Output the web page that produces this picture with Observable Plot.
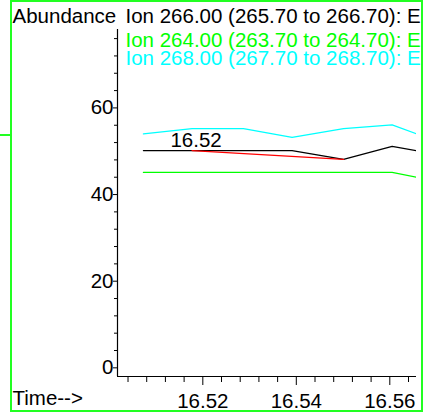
<!DOCTYPE html>
<html><head><meta charset="utf-8">
<script src="https://cdn.jsdelivr.net/npm/d3@7"></script>
<script src="https://cdn.jsdelivr.net/npm/@observablehq/plot@0.6"></script>
<style>
body{margin:0;background:#fff;}
#wrap{position:relative;width:426px;height:415px;overflow:hidden;}
#frame{position:absolute;left:10px;top:0px;width:409px;height:408px;border:2px solid #22ff22;pointer-events:none;}
#strip{position:absolute;left:0px;top:134px;width:10px;height:0;border-top:2px solid #22ff22;}
#chart{position:absolute;left:0;top:0;}
</style>
</head><body>
<div id="wrap"><div id="chart"></div><div id="strip"></div><div id="frame"></div></div>
<script>
// scan times (min) and abundances for each extracted ion
const times  = [16.5073, 16.5177, 16.5287, 16.5391, 16.5501, 16.5605, 16.5713];
const ion266 = [50.15, 50.15, 50.15, 50.15, 48.1, 51.1, 49.1];
const ion264 = [45.1, 45.1, 45.1, 45.1, 45.1, 45.1, 42.8];
const ion268 = [54.0, 55.2, 55.2, 53.2, 55.2, 56.1, 51.8];
// integration baseline and peak label
const baseTimes = [16.5177, 16.5501];
const baseVals  = [50.15, 48.1];
const peakTimes = [16.5177];
const peakVals  = [50.15];
// axes
const xDomain = [16.50175, 16.56571];
const yDomain = [-2, 78.1];
const xMajor = [16.52, 16.54, 16.56];
const xMinor = [16.504, 16.508, 16.512, 16.516, 16.524, 16.528, 16.532, 16.536, 16.544, 16.548, 16.552, 16.556, 16.564];
const yMajor = [0, 20, 40, 60];
const yMinor = [4, 8, 12, 16, 24, 28, 32, 36, 44, 48, 52, 56, 64, 68, 72, 76];
// labels
const yLabel = ["Abundance"];
const xLabel = ["Time-->"];
const legendLabels = ["Ion 266.00 (265.70 to 266.70): E", "Ion 264.00 (263.70 to 264.70): E", "Ion 268.00 (267.70 to 268.70): E"];
const legendColors = ["#000000", "#00ff00", "#00ffff"];

const rows = (vals) => times.map((t, i) => ({t, v: vals[i]}));

const plot = Plot.plot({
  width: 426, height: 415,
  marginLeft: 117, marginRight: 10, marginTop: 29, marginBottom: 39,
  style: {fontFamily: "'Liberation Sans', Arial, sans-serif", fontSize: "20.5px", color: "#000", background: "transparent"},
  x: {domain: xDomain},
  y: {domain: yDomain},
  marks: [
    Plot.line(rows(ion268), {x: "t", y: "v", stroke: legendColors[2], strokeWidth: 1.3, clip: true}),
    Plot.line(rows(ion264), {x: "t", y: "v", stroke: legendColors[1], strokeWidth: 1.3, clip: true}),
    Plot.line(rows(ion266), {x: "t", y: "v", stroke: legendColors[0], strokeWidth: 1.3, clip: true}),
    Plot.line(baseTimes.map((t, i) => ({t, v: baseVals[i]})), {x: "t", y: "v", stroke: "#ff0000", strokeWidth: 1.3}),
    Plot.text(peakTimes.map((t, i) => ({t, v: peakVals[i]})), {x: "t", y: "v", text: d => d3.format(".2f")(d.t), textAnchor: "middle", lineAnchor: "bottom", dx: 4, dy: -4, fill: "#000"}),
    Plot.ruleX([xDomain[0]], {stroke: "#000", strokeWidth: 1.2}),
    Plot.ruleY([yDomain[0]], {stroke: "#000", strokeWidth: 1.2}),
    Plot.axisY(yMajor, {tickSize: 4, tickPadding: 0, label: null}),
    Plot.axisY(yMinor, {tickSize: 3, tickFormat: () => "", label: null}),
    Plot.axisX(xMajor, {tickSize: 9, tickPadding: 8, tickFormat: d3.format(".2f"), label: null}),
    Plot.axisX(xMinor, {tickSize: 6, tickFormat: () => "", label: null}),
    Plot.text(yLabel, {frameAnchor: "top-left", text: d => d, textAnchor: "start", lineAnchor: "top", dx: -105, dy: -21, fill: "#000"}),
    Plot.text([legendLabels[0]], {frameAnchor: "top-left", text: d => d, textAnchor: "start", lineAnchor: "top", dx: 8, dy: -21, fill: legendColors[0]}),
    Plot.text([legendLabels[1]], {frameAnchor: "top-left", text: d => d, textAnchor: "start", lineAnchor: "top", dx: 8, dy: 2.5, fill: legendColors[1]}),
    Plot.text([legendLabels[2]], {frameAnchor: "top-left", text: d => d, textAnchor: "start", lineAnchor: "top", dx: 8, dy: 21, fill: legendColors[2]}),
    Plot.text(xLabel, {frameAnchor: "bottom-left", text: d => d, textAnchor: "start", lineAnchor: "top", dx: -105, dy: 14, fill: "#000"})
  ]
});
document.getElementById("chart").appendChild(plot);
</script>
</body></html>
